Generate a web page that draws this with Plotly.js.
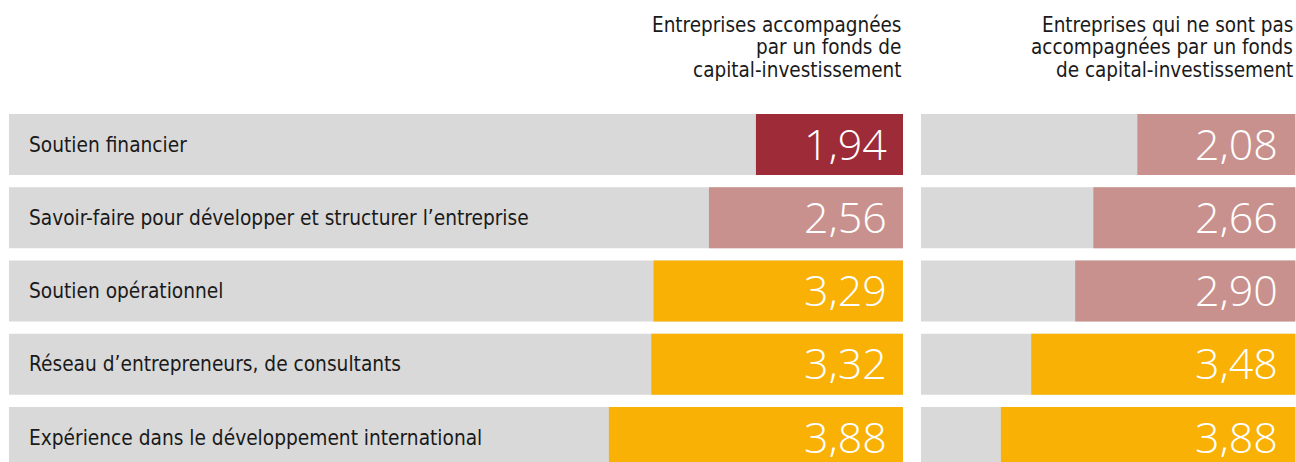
<!DOCTYPE html>
<html>
<head>
<meta charset="utf-8">
<script src="https://cdn.plot.ly/plotly-3.0.1.min.js"></script>
<style>html,body{margin:0;padding:0;background:#fff;}#chart{width:1296px;height:462px;}</style>
</head>
<body>
<div id="chart"></div>
<script>
const categories = [
  "Soutien financier",
  "Savoir-faire pour développer et structurer l’entreprise",
  "Soutien opérationnel",
  "Réseau d’entrepreneurs, de consultants",
  "Expérience dans le développement international"
];
const accompagnees = [1.94, 2.56, 3.29, 3.32, 3.88];
const nonAccompagnees = [2.08, 2.66, 2.90, 3.48, 3.88];
const headerLeft = ["Entreprises accompagnées", "par un fonds de", "capital-investissement"];
const headerRight = ["Entreprises qui ne sont pas", "accompagnées par un fonds", "de capital-investissement"];

function colorFor(v) {
  if (v < 2) return "#9E2C38";
  if (v < 3) return "#C9918D";
  return "#F8B104";
}
function fmt(v) { return v.toFixed(2).replace(".", ","); }

const FONT = "'DejaVu Sans Condensed', 'DejaVu Sans', sans-serif";
const NUMFONT = "'Open Sans', sans-serif";

const traces = [
  {
    type: "bar", orientation: "h", x: accompagnees, y: categories,
    xaxis: "x", yaxis: "y",
    marker: {color: accompagnees.map(colorFor), line: {width: 0}},
    hoverinfo: "skip", showlegend: false
  },
  {
    type: "bar", orientation: "h", x: nonAccompagnees, y: categories,
    xaxis: "x2", yaxis: "y",
    marker: {color: nonAccompagnees.map(colorFor), line: {width: 0}},
    hoverinfo: "skip", showlegend: false
  }
];

const half = 0.4165;
const shapes = [];
categories.forEach((c, i) => {
  ["x domain", "x2 domain"].forEach(xr => {
    shapes.push({type: "rect", xref: xr, yref: "y", x0: 0, x1: 1, y0: i - half, y1: i + half,
      fillcolor: "#D9D9D9", line: {width: 0}, layer: "below"});
  });
});

const annotations = [];
categories.forEach((c, i) => {
  annotations.push({xref: "paper", yref: "y", x: 27/1296, y: c, xanchor: "left", yanchor: "middle",
    text: c, showarrow: false, font: {family: FONT, size: 20.7, color: "#1a1a1a"}});
  annotations.push({xref: "x", yref: "y", x: 0, y: c, xanchor: "right", yanchor: "middle", xshift: -14, yshift: 2,
    height: 42, valign: "middle",
    text: fmt(accompagnees[i]), showarrow: false, font: {family: NUMFONT, size: 43, color: "#ffffff", weight: 300}});
  annotations.push({xref: "x2", yref: "y", x: 0, y: c, xanchor: "right", yanchor: "middle", xshift: -15, yshift: 2,
    height: 42, valign: "middle",
    text: fmt(nonAccompagnees[i]), showarrow: false, font: {family: NUMFONT, size: 43, color: "#ffffff", weight: 300}});
});
headerLeft.forEach((line, i) => {
  annotations.push({xref: "paper", yref: "paper", x: 903/1296, y: 1, yshift: -(10.5 + 22.6*i), xanchor: "right", yanchor: "top",
    text: line, showarrow: false, font: {family: FONT, size: 20.5, color: "#1a1a1a"}});
});
headerRight.forEach((line, i) => {
  annotations.push({xref: "paper", yref: "paper", x: 1295/1296, y: 1, yshift: -(10.5 + 22.6*i), xanchor: "right", yanchor: "top",
    text: line, showarrow: false, font: {family: FONT, size: 20.5, color: "#1a1a1a"}});
});

const layout = {
  width: 1296, height: 462,
  margin: {l: 0, r: 0, t: 0, b: 0, pad: 0},
  paper_bgcolor: "#ffffff", plot_bgcolor: "#ffffff",
  bargap: 0.167,
  xaxis: {domain: [9/1296, 903/1296], range: [(903-9)/75.8, 0], visible: false, showgrid: false, zeroline: false, fixedrange: true},
  xaxis2: {domain: [921/1296, 1], range: [(1295-921)/75.8, -1/75.8], anchor: "y", visible: false, showgrid: false, zeroline: false, fixedrange: true},
  yaxis: {type: "category", categoryorder: "array", categoryarray: categories,
    range: [(462-144.5)/73.25, -144.5/73.25], visible: false, showgrid: false, zeroline: false, fixedrange: true},
  shapes: shapes,
  annotations: annotations,
  showlegend: false
};

Plotly.newPlot("chart", traces, layout, {displayModeBar: false, staticPlot: true});
</script>
</body>
</html>
